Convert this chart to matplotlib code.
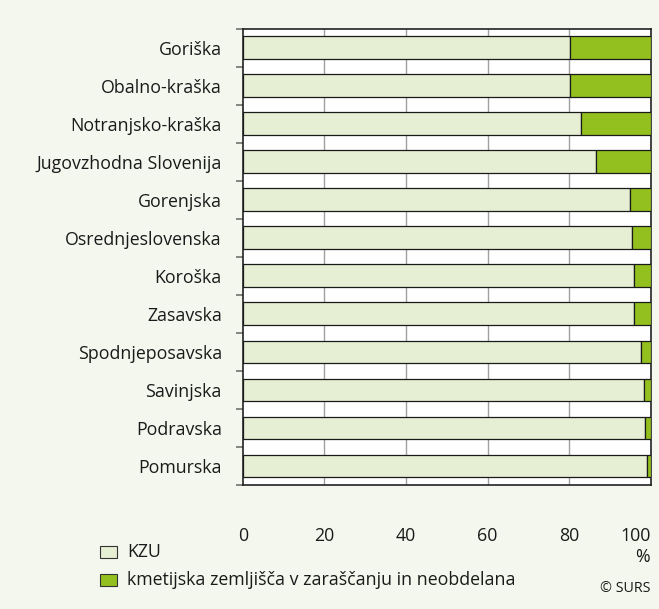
import matplotlib
matplotlib.use("Agg")
import matplotlib.pyplot as plt
import numpy as np
from matplotlib.patches import Rectangle

plt.rcParams['font.family'] = ['Open Sans', 'DejaVu Sans']

regions = ["Goriška", "Obalno-kraška", "Notranjsko-kraška", "Jugovzhodna Slovenija",
           "Gorenjska", "Osrednjeslovenska", "Koroška", "Zasavska",
           "Spodnjeposavska", "Savinjska", "Podravska", "Pomurska"]
kzu = [80.2, 80.2, 82.8, 86.7, 94.9, 95.4, 95.9, 95.9, 97.6, 98.3, 98.7, 99.1]
overgrown = [100 - v for v in kzu]
xticks = [0, 20, 40, 60, 80, 100]
legend_labels = ["KZU", "kmetijska zemljišča v zaraščanju in neobdelana"]

bg = "#F4F7EE"
c_kzu = "#E6EED3"
c_over = "#93C01F"
fs = 12.8

fig = plt.figure(figsize=(6.59, 6.09), dpi=100, facecolor=bg)
ax = fig.add_axes([242.7/659, 1-485/609, (650.7-242.7)/659, (485-28.7)/609])
ax.set_facecolor("white")

y = np.arange(len(regions))
ax.barh(y, kzu, height=0.6, color=c_kzu, edgecolor="#1a1a1a", linewidth=0.9, zorder=3)
ax.barh(y, overgrown, left=kzu, height=0.6, color=c_over, edgecolor="#1a1a1a", linewidth=0.9, zorder=3)

for gx in xticks[1:-1]:
    ax.axvline(gx, color="#a0a0a0", linewidth=1.0, zorder=1)

ax.set_xlim(0, 100)
ax.set_ylim(len(regions) - 0.5, -0.5)
ax.set_yticks(y)
ax.set_yticklabels(regions, fontsize=fs, color="#1a1a1a")
ax.set_yticks(np.arange(-0.5, len(regions), 1), minor=True)
ax.tick_params(axis='y', which='major', length=0, pad=15)
ax.tick_params(axis='y', which='minor', length=5, width=1.2, color="#707070")
ax.set_xticks(xticks)
labs = ax.set_xticklabels([str(t) for t in xticks], fontsize=fs, color="#1a1a1a")
labs[-1].set_horizontalalignment("right")
ax.tick_params(axis='x', length=0, pad=30)

for s in ax.spines.values():
    s.set_color("#222222")
    s.set_linewidth(1.2)

fig.text(650/659, 1-557/609, "%", ha="right", va="center", fontsize=fs, color="#1a1a1a")

# legend
for i, (lab, col) in enumerate(zip(legend_labels, [c_kzu, c_over])):
    yc = 552 + i*28
    fig.patches.append(Rectangle((100/659, 1-(yc+6)/609), 17/659, 12/609,
                                 transform=fig.transFigure, facecolor=col,
                                 edgecolor="#333333", linewidth=0.8))
    fig.text(127/659, 1-yc/609, lab, ha="left", va="center", fontsize=fs, color="#1a1a1a")

fig.text(650/659, 1-588/609, "© SURS", ha="right", va="center", fontsize=10.3, color="#1a1a1a")

fig.savefig("out.png", dpi=100, facecolor=bg)
